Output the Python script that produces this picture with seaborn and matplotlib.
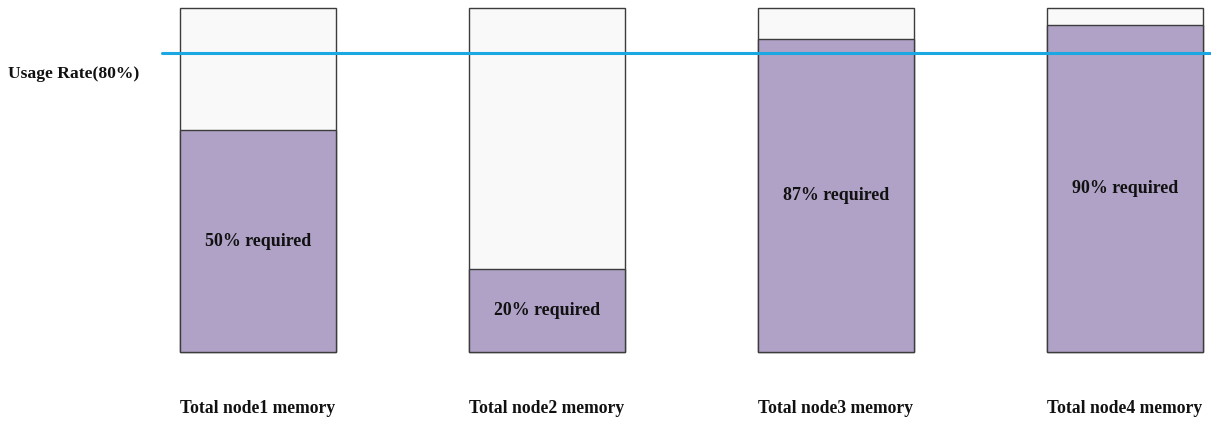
import matplotlib
matplotlib.use("Agg")
import matplotlib.pyplot as plt
import seaborn as sns
import pandas as pd

# ---- data ----
nodes = ["Total node1 memory", "Total node2 memory", "Total node3 memory", "Total node4 memory"]
required_pct = [50, 20, 87, 90]            # values written on the bars
fill_level = [64.5, 24.1, 91.0, 95.1]      # drawn fill height (% of box)
capacity = [100, 100, 100, 100]
usage_rate = 80                            # label value
usage_level = 86.9                         # drawn line height

df = pd.DataFrame({"node": nodes, "capacity": capacity, "fill": fill_level,
                   "req": required_pct})

sns.set_theme(style="white")
plt.rcParams["font.family"] = ["Liberation Serif", "DejaVu Serif"]

fig = plt.figure(figsize=(12.11, 4.21), dpi=100)
ax = fig.add_axes([0, 0, 1, 1])

edge = "#3c3c3c"
sns.barplot(data=df, x="node", y="capacity", color="#f9f9f9", edgecolor=edge,
            linewidth=1.0, width=0.54, saturation=1, ax=ax)
sns.barplot(data=df, x="node", y="fill", color="#b0a2c6", edgecolor=edge,
            linewidth=1.0, width=0.54, saturation=1, ax=ax)

ax.set_xlim(-0.891, 3.297)
ax.set_ylim(-20.06, 102.33)
ax.axis("off")

ax.axhline(usage_level, xmin=0.134, xmax=1.0, color="#1ba7e1", lw=2.2, zorder=5)

for i, (lvl, r) in enumerate(zip(fill_level, required_pct)):
    ax.text(i, lvl / 2, f"{r}% required", ha="center", va="center",
            fontsize=12.9, fontweight="bold", color="#111111", zorder=6)
    ax.text(i, -16.3, nodes[i], ha="center", va="center",
            fontsize=12.7, fontweight="bold", color="#111111")

ax.text(-0.864, 80.8, f"Usage Rate({usage_rate}%)", ha="left", va="center",
        fontsize=12.6, fontweight="bold", color="#111111")

fig.savefig("out.png", dpi=100)
